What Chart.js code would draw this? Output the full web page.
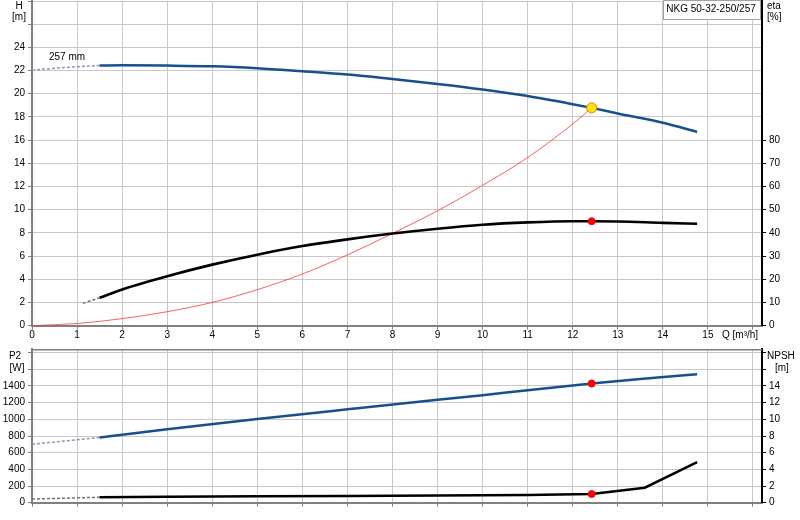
<!DOCTYPE html>
<html lang="en">
<head>
  <meta charset="UTF-8">
  <title>NKG 50-32-250/257</title>
  <style>
    body { margin: 0; background: #fff; }
    #wrap { position: relative; width: 800px; height: 520px; overflow: hidden; }
    canvas { position: absolute; left: 0; }
    #curveChart { top: -8px; }
    #powerChart { top: 340px; }
  </style>
</head>
<body>
  <div id="wrap">
    <canvas id="curveChart" width="800" height="353"></canvas>
    <canvas id="powerChart" width="800" height="180"></canvas>
  </div>

  <script src="https://cdn.jsdelivr.net/npm/chart.js"></script>
  <script>
    // pump curve H [m], solid part and dashed extension towards Q=0
    const qH = [1.5, 2, 3, 4, 5, 6, 7, 8, 9, 10, 11, 12, 12.42, 13, 14, 14.76];
    const hVals = [22.43, 22.45, 22.43, 22.37, 22.2, 21.94, 21.66, 21.28, 20.85, 20.37, 19.8, 19.1, 18.78, 18.3, 17.5, 16.7];
    const qHDash = [0, 0.5, 1, 1.5];
    const hDash = [22.03, 22.2, 22.33, 22.43];

    // system curve (thin red)
    const qSys = [0, 1, 2, 3, 4, 5, 6, 7, 8, 9, 10, 11, 12, 12.42];
    const hSys = [0, 0.18, 0.6, 1.2, 2.0, 3.1, 4.45, 6.1, 7.95, 9.9, 12.1, 14.5, 17.4, 18.78];

    // efficiency eta [%]
    const qEta = [1.5, 2, 3, 4, 5, 6, 7, 8, 9, 10, 11, 12, 12.42, 13, 14, 14.76];
    const etaVals = [12, 15.6, 21.3, 26.3, 30.6, 34.3, 37.2, 39.7, 41.8, 43.5, 44.5, 45.0, 45.0, 44.9, 44.3, 43.9];
    const qEtaDash = [1.13, 1.5];
    const etaDash = [9.6, 12];

    // power P2 [W]
    const qP2 = [1.5, 3, 5, 7, 9, 10, 11, 12.42, 13.5, 14.76];
    const p2Vals = [783, 880, 1003, 1120, 1235, 1290, 1350, 1430, 1485, 1542];
    const qP2Dash = [0, 1.5];
    const p2Dash = [700, 783];

    // NPSH [m]
    const qNpsh = [1.5, 3, 5, 7, 9, 10, 11, 12.42, 13.6, 14.76];
    const npshVals = [0.65, 0.7, 0.77, 0.8, 0.85, 0.9, 0.92, 1.04, 1.8, 4.87];
    const qNpshDash = [0, 1.5];
    const npshDash = [0.44, 0.65];

    // duty point
    const dutyQ = 12.42, dutyH = 18.78, dutyEta = 45.0, dutyP2 = 1430, dutyNpsh = 1.04;

    // ticks: [step, last tick, last labelled tick]
    const qTicks = [1, 16, 15];
    const hTicks = [2, 28, 24];
    const etaTicks = [10, 80, 80];
    const p2Ticks = [200, 1800, 1400];
    const npshTicks = [2, 18, 14];

    const pts = (xs, ys) => xs.map((x, i) => ({ x: x, y: ys[i] }));

    const BLUE = '#18508e';
    const GRID = '#c8c8c8';
    const AXIS = '#808080';
    const FONT = { family: '"Liberation Sans", Arial, sans-serif', size: 10 };

    const panelText = {
      id: 'panelText',
      afterDraw(chart, args, opts) {
        const ctx = chart.ctx;
        const dy = opts.dy || 0;
        ctx.save();
        if (opts.topBorder) {
          ctx.strokeStyle = AXIS;
          ctx.lineWidth = 1.5;
          ctx.beginPath();
          ctx.moveTo(chart.chartArea.left, chart.chartArea.top + 0.5);
          ctx.lineTo(chart.chartArea.right, chart.chartArea.top + 0.5);
          ctx.stroke();
        }
        if (opts.box) {
          const b = opts.box;
          ctx.fillStyle = '#fff';
          ctx.fillRect(b.x, b.y + dy, b.w, b.h);
          ctx.strokeStyle = '#a0a0a0';
          ctx.lineWidth = 1;
          ctx.strokeRect(b.x + 0.5, b.y + dy + 0.5, b.w, b.h);
        }
        ctx.font = '10px "Liberation Sans", Arial, sans-serif';
        ctx.fillStyle = '#000';
        ctx.textBaseline = 'middle';
        (opts.items || []).forEach(t => {
          ctx.textAlign = t.align || 'center';
          ctx.fillText(t.text, t.x, t.y + dy);
        });
        ctx.restore();
      }
    };

    // replace generated ticks with fixed ones
    const fixedTicks = ([step, last]) => s => {
      const out = [];
      for (let i = 0; i * step <= last + 1e-9; i++) out.push({ value: i * step });
      s.ticks = out;
    };

    function xScale(showLabels) {
      return {
        type: 'linear', min: 0, max: 16.2,
        afterBuildTicks: fixedTicks(qTicks),
        ticks: {
          color: '#000', font: FONT, padding: 0, maxRotation: 0, autoSkip: false,
          callback: v => (showLabels && v <= qTicks[2]) ? v : ''
        },
        grid: { color: GRID, lineWidth: 1, tickColor: AXIS, tickLength: 4 },
        border: { color: AXIS, width: 2 }
      };
    }

    function leftScale(max, spec, width) {
      return {
        position: 'left', min: 0, max: max,
        afterBuildTicks: fixedTicks(spec),
        afterFit: s => { s.width = width; },
        ticks: { color: '#000', font: FONT, padding: 3, autoSkip: false, callback: v => v <= spec[2] ? v : '' },
        grid: { color: GRID, lineWidth: 1, tickColor: AXIS, tickLength: 4 },
        border: { color: AXIS, width: 2 }
      };
    }

    function rightScale(max, spec, width) {
      return {
        position: 'right', min: 0, max: max,
        afterBuildTicks: fixedTicks(spec),
        afterFit: s => { s.width = width; },
        ticks: { color: '#000', font: FONT, padding: 3, autoSkip: false, callback: v => v <= spec[2] ? v : '' },
        grid: { drawOnChartArea: false, tickColor: '#000', tickLength: 4 },
        border: { color: '#000', width: 2 }
      };
    }

    const solid = (data, color, width, axis, mono) => ({
      data: data, borderColor: color, borderWidth: width, yAxisID: axis,
      pointRadius: 0, fill: false, cubicInterpolationMode: mono ? 'monotone' : 'default', tension: 0
    });
    const dashed = (data, color, axis) => ({
      data: data, borderColor: color, borderWidth: 1.5, borderDash: [3, 2], yAxisID: axis,
      pointRadius: 0, fill: false, tension: 0
    });
    const marker = (x, y, axis, fill, border, r) => ({
      data: [{ x: x, y: y }], yAxisID: axis, showLine: false,
      pointRadius: r, pointBackgroundColor: fill, pointBorderColor: border, pointBorderWidth: 1
    });

    new Chart(document.getElementById('curveChart'), {
      type: 'line',
      data: {
        datasets: [
          marker(dutyQ, dutyH, 'y', '#ffe400', '#f08000', 5),
          marker(dutyQ, dutyEta, 'eta', '#ff0000', '#ff0000', 3.5),
          solid(pts(qH, hVals), BLUE, 2.5, 'y', true),
          dashed(pts(qHDash, hDash), '#8796b0', 'y'),
          solid(pts(qEta, etaVals), '#000', 2.6, 'eta', true),
          dashed(pts(qEtaDash, etaDash), '#707070', 'eta'),
          solid(pts(qSys, hSys), 'rgba(255,40,40,0.75)', 1, 'y', true)
        ]
      },
      options: {
        responsive: false,
        animation: false,
        layout: { padding: { top: 8, left: 0, right: 0, bottom: 0 } },
        plugins: {
          legend: { display: false },
          tooltip: { enabled: false },
          panelText: {
            dy: 8,
            box: { x: 663, y: 0, w: 97, h: 19 },
            items: [
              { text: 'H', x: 19, y: 6 },
              { text: '[m]', x: 19, y: 17 },
              { text: 'eta', x: 767, y: 6, align: 'left' },
              { text: '[%]', x: 767, y: 17, align: 'left' },
              { text: 'NKG 50-32-250/257', x: 711, y: 9 },
              { text: '257 mm', x: 67, y: 57 },
              { text: 'Q [m\u00b3/h]', x: 722, y: 335, align: 'left' }
            ]
          }
        },
        scales: {
          x: Object.assign(xScale(true), { afterFit: s => { s.height = 353 - 8 - 325.6; } }),
          y: leftScale(28, hTicks, 32),
          eta: rightScale(140, etaTicks, 38)
        }
      },
      plugins: [panelText]
    });

    new Chart(document.getElementById('powerChart'), {
      type: 'line',
      data: {
        datasets: [
          marker(dutyQ, dutyP2, 'y', '#ff0000', '#ff0000', 3.5),
          marker(dutyQ, dutyNpsh, 'npsh', '#ff0000', '#ff0000', 3.5),
          solid(pts(qP2, p2Vals), BLUE, 2.5, 'y', true),
          dashed(pts(qP2Dash, p2Dash), '#8796b0', 'y'),
          solid(pts(qNpsh, npshVals), '#000', 2.5, 'npsh', false),
          dashed(pts(qNpshDash, npshDash), '#707070', 'npsh')
        ]
      },
      options: {
        responsive: false,
        animation: false,
        layout: { padding: { top: 9.3, left: 0, right: 0, bottom: 0 } },
        plugins: {
          legend: { display: false },
          tooltip: { enabled: false },
          panelText: {
            topBorder: true,
            dy: -340,
            items: [
              { text: 'P2', x: 15, y: 356 },
              { text: '[W]', x: 17, y: 368 },
              { text: 'NPSH', x: 767, y: 356, align: 'left' },
              { text: '[m]', x: 775, y: 368, align: 'left' }
            ]
          }
        },
        scales: {
          x: Object.assign(xScale(false), { afterFit: s => { s.height = 180 - 162.7; } }),
          y: leftScale(1840, p2Ticks, 32),
          npsh: rightScale(18.4, npshTicks, 38)
        }
      },
      plugins: [panelText]
    });
  </script>
</body>
</html>
